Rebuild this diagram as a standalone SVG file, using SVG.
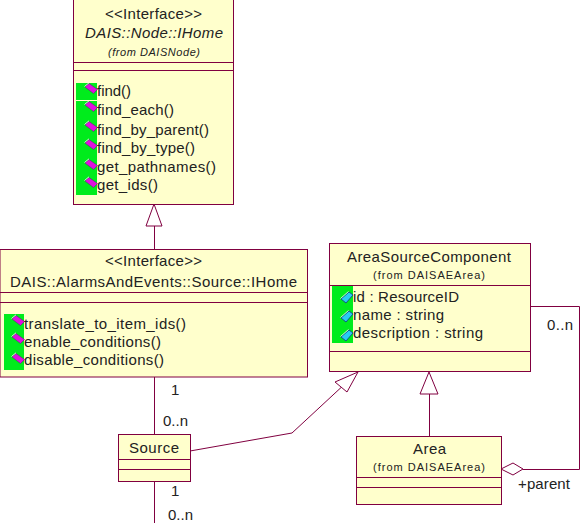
<svg xmlns="http://www.w3.org/2000/svg" width="580" height="523" viewBox="0 0 580 523">
<defs>
<g id="op"><path d="M-6 -1L-2 -4.500L6.500 1.500L2.500 5.500Z" fill="#e010e0" stroke="#5a1a70" stroke-width="0.500"/><path d="M-6.500 -1.500L-2 -5.200" fill="none" stroke="#fff" stroke-width="0.800"/></g>
<g id="attr"><path d="M-5 1L3 -6L7 -3L0 5Z" fill="#28ccf4" stroke="#123a80" stroke-width="0.800"/><path d="M-5.500 0.500L2.500 -6.500" fill="none" stroke="#fff" stroke-width="0.800"/></g>
</defs>
<style>
.box{fill:#ffffcc;stroke:#800040;stroke-width:1}
.sep{stroke:#800040;stroke-width:1;fill:none}
.line{stroke:#800040;stroke-width:1;fill:none}
.head{stroke:#800040;stroke-width:1;fill:#fff}
.green{fill:#00ec1c;stroke:none}
text{font-family:"Liberation Sans",Arial,sans-serif;fill:#222;font-size:15px}
.small{font-size:11px}
.it{font-style:italic}
</style>
<rect width="580" height="523" fill="#fff"/>
<g id="connectors">
<path class="line" d="M154.500 226V249"/>
<path class="head" d="M154 204L146 226H162Z"/>
<path class="line" d="M154.500 377V434M154.500 481V523"/>
<path class="line" d="M190 451L292 433L347 382"/>
<path class="head" d="M358 372L335 382L347 392Z"/>
<path class="line" d="M429.500 394V436"/>
<path class="head" d="M429 372L420 394H438Z"/>
<path class="line" d="M528 306.500H579.500V469.500H523"/>
<path class="head" d="M501 469L513 463L523 469L513 475Z"/>
<text x="171" y="395">1</text>
<text x="163" y="426" textLength="25" lengthAdjust="spacing">0..n</text>
<text x="171" y="496">1</text>
<text x="168" y="519.500" textLength="25" lengthAdjust="spacing">0..n</text>
<text x="547" y="330" textLength="26" lengthAdjust="spacing">0..n</text>
<text x="518" y="489" textLength="52" lengthAdjust="spacing">+parent</text>
</g>
<g id="node-ihome">
<rect class="box" x="73.500" y="-1" width="160" height="205.500"/>
<path class="sep" d="M73.500 62.500H233.500M73.500 70.500H233.500"/>
<text x="105" y="19" textLength="97" lengthAdjust="spacing">&lt;&lt;Interface&gt;&gt;</text>
<text class="it" x="85" y="38" textLength="138" lengthAdjust="spacing">DAIS::Node::IHome</text>
<text class="it small" x="108" y="56" textLength="92" lengthAdjust="spacing">(from DAISNode)</text>
<rect class="green" x="76" y="83" width="21" height="17"/>
<rect class="green" x="76" y="101" width="21" height="94"/>
<use href="#op" x="91" y="88"/><use href="#op" x="91" y="106"/><use href="#op" x="91" y="126"/><use href="#op" x="91" y="144"/><use href="#op" x="91" y="164"/><use href="#op" x="91" y="182"/>
<text x="97" y="96" textLength="34" lengthAdjust="spacing">find()</text>
<text x="97" y="115" textLength="77" lengthAdjust="spacing">find_each()</text>
<text x="97" y="135" textLength="112" lengthAdjust="spacing">find_by_parent()</text>
<text x="97" y="153" textLength="98" lengthAdjust="spacing">find_by_type()</text>
<text x="97" y="172" textLength="119" lengthAdjust="spacing">get_pathnames()</text>
<text x="97" y="190" textLength="61" lengthAdjust="spacing">get_ids()</text>
</g>
<g id="node-source-ihome">
<rect class="box" x="0" y="249.500" width="307.500" height="127.500"/>
<path class="sep" d="M0 292.500H307.500M0 302.500H307.500"/>
<text x="105" y="266" textLength="97" lengthAdjust="spacing">&lt;&lt;Interface&gt;&gt;</text>
<text x="10" y="287" textLength="287" lengthAdjust="spacing">DAIS::AlarmsAndEvents::Source::IHome</text>
<rect class="green" x="4" y="314" width="20" height="56"/>
<use href="#op" x="18" y="320"/><use href="#op" x="18" y="338"/><use href="#op" x="18" y="358"/>
<text x="24" y="329" textLength="162" lengthAdjust="spacing">translate_to_item_ids()</text>
<text x="24" y="347" textLength="137" lengthAdjust="spacing">enable_conditions()</text>
<text x="24" y="365" textLength="140" lengthAdjust="spacing">disable_conditions()</text>
</g>
<g id="node-source">
<rect class="box" x="118.500" y="434.500" width="72" height="47"/>
<path class="sep" d="M118.500 459.500H190.500M118.500 469.500H190.500"/>
<text x="129" y="453" textLength="50" lengthAdjust="spacing">Source</text>
</g>
<g id="node-areasourcecomponent">
<rect class="box" x="329.500" y="243.500" width="201" height="128"/>
<path class="sep" d="M329.500 285.500H530.500M329.500 351.500H530.500"/>
<text x="347" y="262" textLength="164" lengthAdjust="spacing">AreaSourceComponent</text>
<text class="small" x="373" y="279" textLength="112" lengthAdjust="spacing">(from DAISAEArea)</text>
<rect class="green" x="332" y="286" width="21" height="57"/>
<use href="#attr" x="346" y="298"/><use href="#attr" x="346" y="317"/><use href="#attr" x="346" y="336"/>
<text x="353" y="302" textLength="106" lengthAdjust="spacing">id : ResourceID</text>
<text x="353" y="320" textLength="91" lengthAdjust="spacing">name : string</text>
<text x="353" y="338" textLength="130" lengthAdjust="spacing">description : string</text>
</g>
<g id="node-area">
<rect class="box" x="356.500" y="436.500" width="145" height="68"/>
<path class="sep" d="M356.500 477.500H501.500M356.500 487.500H501.500"/>
<text x="413" y="454" textLength="33" lengthAdjust="spacing">Area</text>
<text class="small" x="373" y="471" textLength="112" lengthAdjust="spacing">(from DAISAEArea)</text>
</g>
</svg>
